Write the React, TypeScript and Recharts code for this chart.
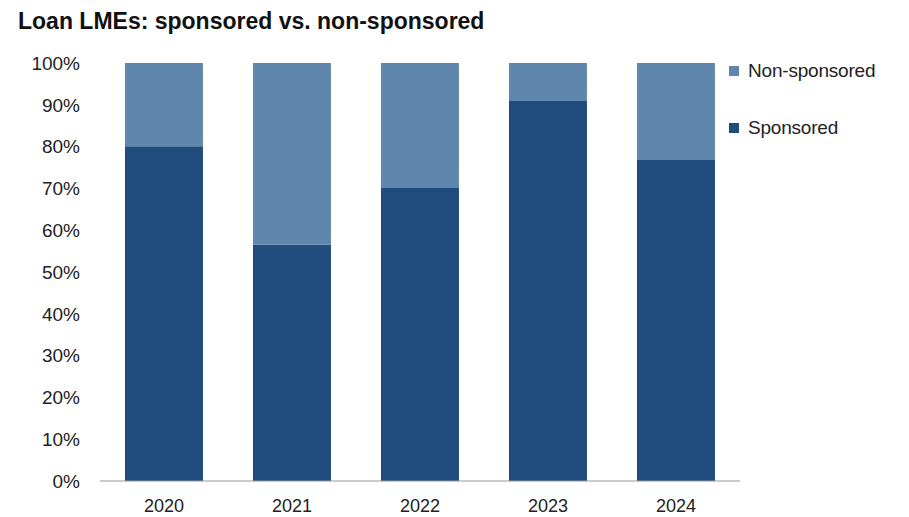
import React from 'react';
import { BarChart, Bar, XAxis, YAxis } from 'recharts';

const years = ['2020', '2021', '2022', '2023', '2024'];
const sponsored = [80.1, 56.5, 70.1, 90.9, 76.8];
const nonSponsored = [19.9, 43.5, 29.9, 9.1, 23.2];
const yTicks = [0, 10, 20, 30, 40, 50, 60, 70, 80, 90, 100];
const legendLabels = ['Non-sponsored', 'Sponsored'];

const data = years.map((y, i) => ({ year: y, sponsored: sponsored[i], nonSponsored: nonSponsored[i] }));

const DARK = '#1f4c7c';
const LIGHT = '#5f87ad';
const FONT = '"Liberation Sans", Arial, sans-serif';

const LegendBox = () => {
  const colors = [LIGHT, DARK];
  return (
    <div style={{ position: 'absolute', left: 729, top: 61, fontFamily: FONT }}>
      {legendLabels.map((label, i) => (
        <div key={label} style={{ display: 'flex', alignItems: 'center', height: 20, marginBottom: i === 0 ? 37 : 0 }}>
          <span style={{ width: 10, height: 10, background: colors[i], display: 'inline-block', marginRight: 9 }} />
          <span style={{ fontSize: 19, color: '#222', letterSpacing: -0.2 }}>{label}</span>
        </div>
      ))}
    </div>
  );
};

export default function App() {
  return (
    <div style={{ position: 'absolute', left: 0, top: 0, width: 909, height: 517, background: '#fff' }}>
      <div style={{ position: 'absolute', left: 18, top: 8, fontFamily: FONT, fontWeight: 'bold', fontSize: 23, color: '#111', whiteSpace: 'nowrap' }}>
        Loan LMEs: sponsored vs. non-sponsored
      </div>
      <BarChart
        width={909}
        height={517}
        data={data}
        margin={{ top: 63, right: 169, bottom: 6, left: 0 }}
        barCategoryGap="19.5%"
      >
        <XAxis
          dataKey="year"
          height={30}
          tickLine={false}
          axisLine={{ stroke: '#999' }}
          tick={{ fontSize: 18, fill: '#222', fontFamily: FONT }}
          tickMargin={12}
        />
        <YAxis
          width={100}
          domain={[0, 100]}
          ticks={yTicks}
          interval={0}
          tickFormatter={(v) => `${v}%`}
          tickLine={false}
          axisLine={false}
          tickSize={6}
          tickMargin={14}
          tick={{ fontSize: 19, fill: '#222', fontFamily: FONT }}
        />
        <Bar dataKey="sponsored" stackId="a" fill={DARK} isAnimationActive={false} />
        <Bar dataKey="nonSponsored" stackId="a" fill={LIGHT} isAnimationActive={false} />
      </BarChart>
      <LegendBox />
    </div>
  );
}
